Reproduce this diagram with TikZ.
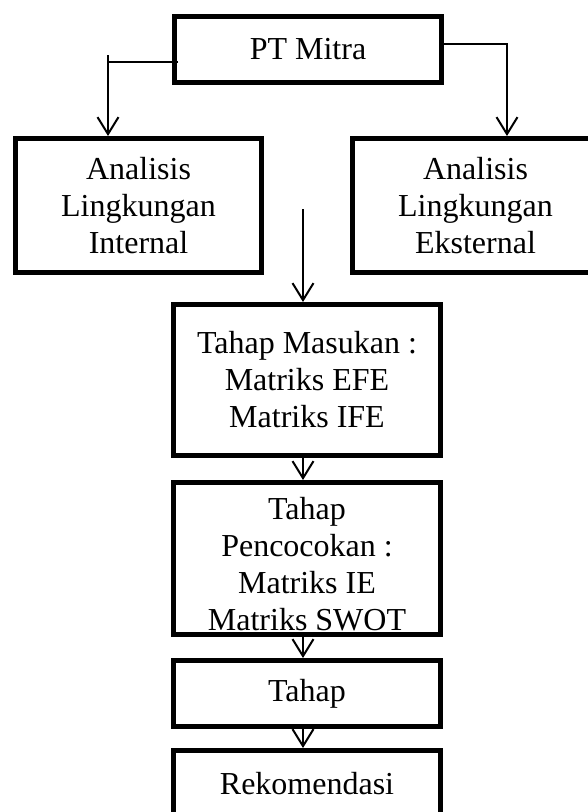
\documentclass[tikz,border=0pt]{standalone}
\usepackage{fontspec}
\setmainfont{Liberation Serif}
\usetikzlibrary{arrows.meta}

\begin{document}
\begin{tikzpicture}[x=1pt,y=-1pt,
kotak/.style={draw=black,line width=5pt,align=center,inner sep=0pt,minimum width=267pt,
  font=\fontsize{32}{37}\selectfont},
garis/.style={black,line width=2pt},
panah/.style={garis,-{Straight Barb[length=17pt,width=21pt]}}]
\clip (0,0) rectangle (588,812);
\fill [white] (0,0) rectangle (588,812);
\node [kotak,minimum height=66pt] (mitra) at (308,49.5) {PT Mitra};
\node [kotak,minimum width=246pt,minimum height=134pt] (intern) at (138.5,205.5) {Analisis\\Lingkungan\\Internal};
\node [kotak,minimum width=246pt,minimum height=134pt] (ekstern) at (475.5,205.5) {Analisis\\Lingkungan\\Eksternal};
\node [kotak,minimum height=151pt] (masukan) at (307,380) {Tahap Masukan :\\Matriks EFE\\Matriks IFE};
\node [kotak,minimum height=152pt] (cocok) at (307,558.5) {\rule{0pt}{33pt}Tahap\\Pencocokan :\\Matriks IE\\Matriks SWOT};
\node [kotak,minimum height=66pt] (tahap) at (307,693.5) {Tahap};
\node [kotak,minimum height=66pt] (rekom) at (307,783.5) {Rekomendasi};
\coordinate (kiri) at (108,55);
\coordinate (tengah) at (303,209);
\draw [garis] ([xshift=6pt,yshift=-12.5pt]mitra.west) -- (kiri |- 0,62);
\draw [panah] (kiri) -- (kiri |- intern.north);
\draw [panah] ([yshift=5.5pt]mitra.east) -| ([xshift=31.5pt]ekstern.north);
\draw [panah] (tengah) -- (tengah |- masukan.north);
\draw [panah] (masukan.south -| tengah) -- (cocok.north -| tengah);
\draw [panah] (cocok.south -| tengah) -- (tahap.north -| tengah);
\draw [panah] (tahap.south -| tengah) -- (rekom.north -| tengah);
\end{tikzpicture}
\end{document}
